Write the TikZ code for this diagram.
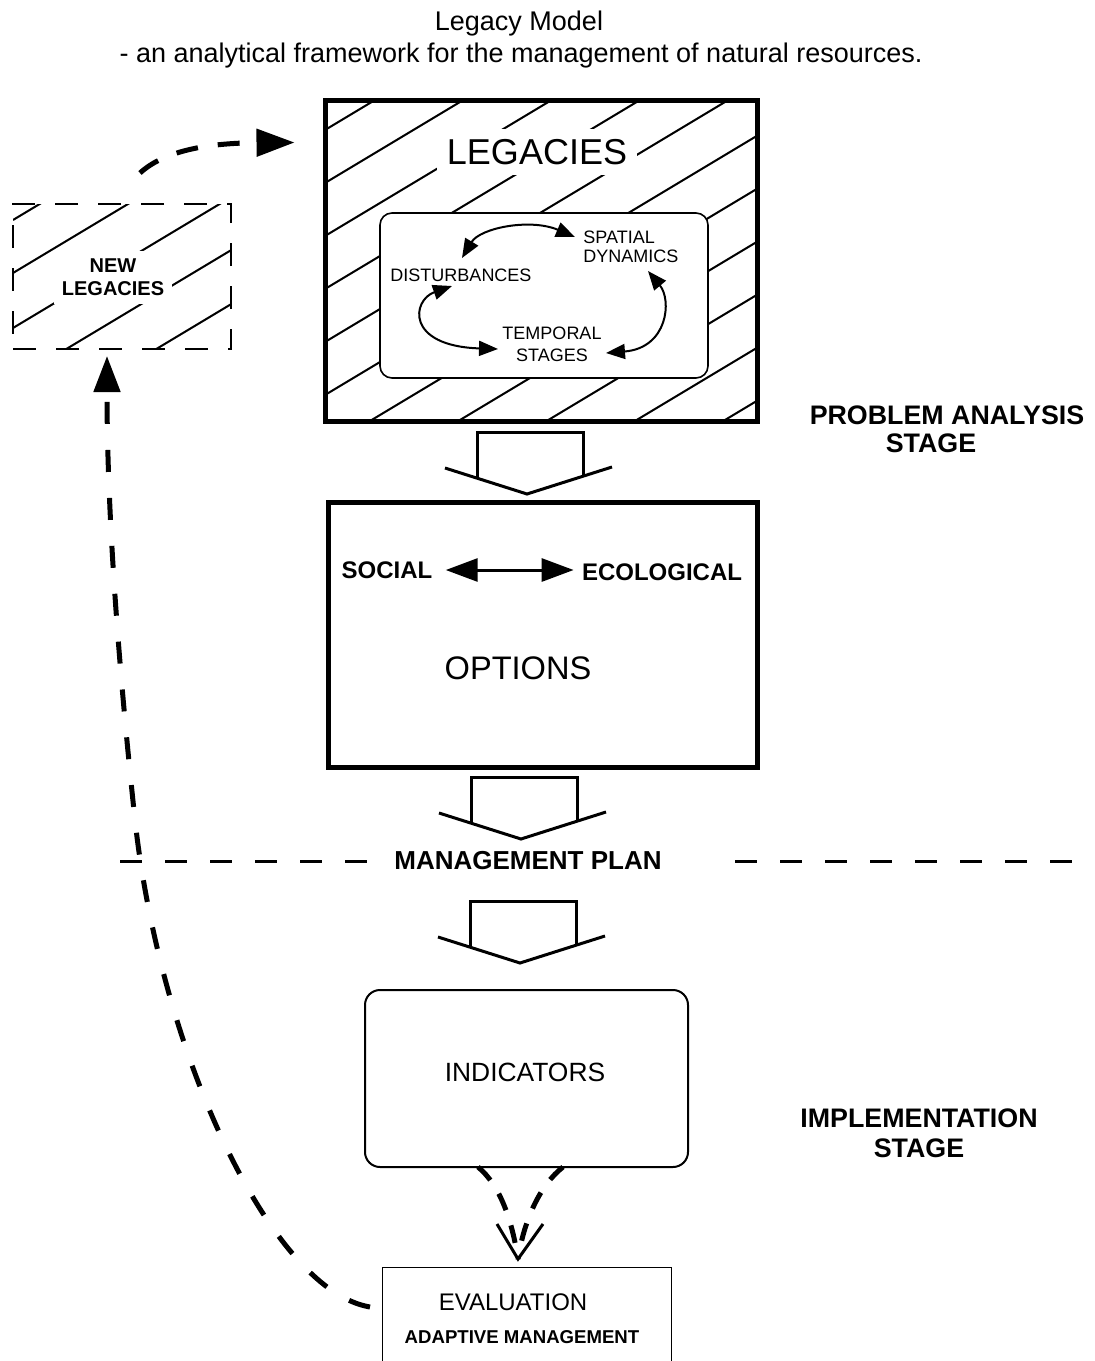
\documentclass[tikz,border=0pt]{standalone}
\usepackage{fontspec}
\setmainfont{Liberation Sans}
\usetikzlibrary{arrows.meta,fit,calc}
\begin{document}
\begin{tikzpicture}[x=0.5pt,y=-0.5pt,
  lbl/.style={inner sep=0pt, align=center},
  hatch/.style={line width=1pt},
  frame/.style={draw, inner sep=0pt, line width=2.5pt},
  blockarrow/.pic={
    \draw[line width=1.5pt, line join=miter] (-53,46) -- (-53,0) -- (53,0) -- (53,44);
    \draw[line width=1.5pt, line join=miter] (-85,36) -- (-3,62) -- (82,35);
  },
  cyc/.style={line width=1pt, {Triangle[length=9.5pt,width=7.5pt]}-{Triangle[length=9.5pt,width=7.5pt]}},
  bigdash/.style={line width=2.5pt, dash pattern=on 11pt off 13pt},
  hdash/.style={line width=1.5pt, dash pattern=on 11pt off 11.5pt},
]
\useasboundingbox (0,0) rectangle (1094,1361);
\clip (0,0) rectangle (1094,1361);
\fill[white] (0,0) rectangle (1094,1361);

% title
\node[lbl, anchor=base, font=\fontsize{13.5}{16}\selectfont] (t1) at (519,30) {Legacy Model};
\node[lbl, anchor=base, font=\fontsize{13.5}{16}\selectfont] (t2) at (521,62) {- an analytical framework for the management of natural resources.};

% LEGACIES box
\begin{scope}
  \clip (325,100) rectangle (757,421);
  \foreach \Y in {130,183,...,660} \draw[hatch] (325,\Y) -- ++(800,-480);
\end{scope}
\node[frame, fit={(325,100) (757,421)}] (leg) {};
\node[lbl, fill=white, inner sep=5pt, font=\fontsize{18}{18}\selectfont] (legt) at (537,152) {LEGACIES};
\node[draw, fill=white, inner sep=0pt, line width=0.8pt, rounded corners=6pt, fit={(380,213) (708,378)}] (inner) {};
\node[lbl, font=\fontsize{9}{9.5}\selectfont] (dist) at (461,275) {DISTURBANCES};
\node[lbl, align=left, anchor=west, font=\fontsize{9}{9.5}\selectfont] (spat) at (583,246.5) {SPATIAL\\DYNAMICS};
\node[lbl, font=\fontsize{9}{11}\selectfont] (temp) at (552,344) {TEMPORAL\\STAGES};
\coordinate (c1) at (462,258);
\coordinate (c2) at (575,237);
\coordinate (c3) at (452,286);
\coordinate (c4) at (498,349);
\coordinate (c5) at (648,271);
\coordinate (c6) at (606,353);
\draw[cyc] (c1) .. controls (480,228) and (530,218) .. (c2);
\draw[cyc] (c3) .. controls (412,300) and (405,346) .. (c4);
\draw[cyc] (c5) .. controls (672,300) and (668,348) .. (c6);

% NEW LEGACIES box
\begin{scope}
  \clip (13,204) rectangle (231,349);
  \foreach \Y in {220,273,328,381,435} \draw[hatch] (13,\Y) -- ++(500,-300);
\end{scope}
\node[draw, inner sep=0pt, line width=1pt, dash pattern=on 11.5pt off 10pt, fit={(13,204) (231,349)}] (newleg) {};
\node[lbl, fill=white, inner sep=4pt, font=\bfseries\fontsize{10}{11.5}\selectfont] (newlegt) at (113,277.5) {NEW\\LEGACIES};

% block arrow 1
\pic at (530,432) {blockarrow};

% OPTIONS box
\node[frame, fit={(328,502) (757,767)}] (opt) {};
\node[lbl, font=\bfseries\fontsize{12}{12}\selectfont] (soc) at (387,570) {SOCIAL};
\node[lbl, font=\bfseries\fontsize{12}{12}\selectfont] (eco) at (662,572) {ECOLOGICAL};
\node[lbl, font=\fontsize{16.3}{16.3}\selectfont] (optt) at (518,668) {OPTIONS};
\draw[line width=1.5pt, {Triangle[length=16pt,width=11.5pt]}-{Triangle[length=16pt,width=11.5pt]}]
  ($(soc.east)+(13,0)$) -- ($(eco.west)+(-8,-2)$);

% block arrow 2
\pic at (524,777) {blockarrow};

% management plan line
\node[lbl, font=\bfseries\fontsize{13}{13}\selectfont] (mp) at (528,861) {MANAGEMENT PLAN};
\coordinate (hl) at (120,861);
\coordinate (hr) at (1078,861);
\draw[hdash] (hl) -- ($(mp.west)+(-20,0)$);
\draw[hdash] ($(mp.east)+(73,0)$) -- (hr);

% block arrow 3
\pic at (523,901) {blockarrow};

% INDICATORS
\node[draw, inner sep=0pt, line width=1pt, rounded corners=7.5pt, fit={(365,990) (688,1167)}] (ind) {};
\node[lbl, font=\fontsize{13.2}{13.2}\selectfont] (indt) at (525,1072) {INDICATORS};

% EVALUATION
\node[inner sep=0pt, fit={(383,1268) (671,1361)}] (eval) {};
\draw[line width=0.8pt] (eval.south west) -- (eval.north west) -- (eval.north east) -- (eval.south east);
\node[lbl, font=\fontsize{12}{12}\selectfont] (evalt) at (513,1302) {EVALUATION};
\node[lbl, font=\bfseries\fontsize{9.3}{9.3}\selectfont] (adapt) at (522,1337) {ADAPTIVE MANAGEMENT};

% converging dashed arrows
\coordinate (vt) at (518,1259);
\draw[line width=2.5pt, dash pattern=on 9pt off 8pt] (478,1167) .. controls (500,1185) and (512,1220) .. (vt);
\draw[line width=2.5pt, dash pattern=on 9pt off 8pt] (563,1167) .. controls (540,1185) and (524,1220) .. (vt);
\draw[line width=1.5pt, line join=miter] (497,1224) -- (vt) -- (543,1224);

% stage labels
\node[lbl, font=\bfseries\fontsize{13.4}{14}\selectfont] (pa1) at (947,415) {PROBLEM ANALYSIS};
\node[lbl, font=\bfseries\fontsize{13.4}{14}\selectfont] (pa2) at (931,443) {STAGE};
\node[lbl, font=\bfseries\fontsize{13.4}{15}\selectfont] (impl) at (919,1133) {IMPLEMENTATION\\STAGE};

% feedback dashed arrows
\coordinate (fb0) at (370,1307);
\coordinate (fb1) at (135,820);
\draw[bigdash, -{Triangle[length=18pt,width=13pt]}] (fb0) .. controls (270,1290) and (160,1050) .. (fb1)
   .. controls (120,680) and (107,520) .. ($(newleg.south)+(-15,6)$);
\coordinate (tp0) at (140,173);
\draw[line width=2.5pt, dash pattern=on 11pt off 10pt, -{Triangle[length=19pt,width=13.5pt]}]
   (tp0) .. controls (165,150) and (210,143) .. ($(leg.west)+(-28,-118)$);
\end{tikzpicture}
\end{document}
